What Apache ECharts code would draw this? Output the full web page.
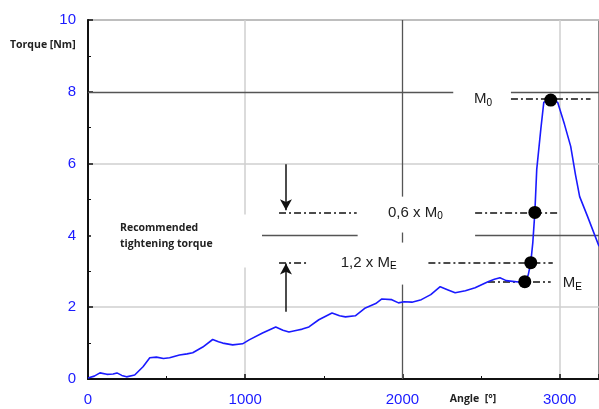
<!DOCTYPE html>
<html>
<head>
<meta charset="utf-8">
<script src="https://cdn.jsdelivr.net/npm/echarts@6/dist/echarts.min.js"></script>
<style>
  html, body { margin: 0; padding: 0; background: #fff; }
  #main { width: 599px; height: 409px; }
</style>
</head>
<body>
<div id="main"></div>
<script>
// torque curve
var angle  = [0, 40, 76, 120, 160, 184, 215, 245, 297, 350, 393, 435, 480, 519, 582, 630, 666, 730, 793, 830, 857, 920, 983, 1025, 1110, 1194, 1240, 1278, 1330, 1363, 1405, 1468, 1552, 1600, 1637, 1700, 1764, 1830, 1869, 1932, 1975, 2010, 2060, 2120, 2180, 2240, 2290, 2335, 2400, 2462, 2544, 2585, 2620, 2660, 2700, 2740, 2778, 2800, 2816, 2829, 2842, 2854, 2880, 2899, 2943, 2987, 3030, 3070, 3100, 3127, 3177, 3250];
var torque = [0.03, 0.08, 0.17, 0.13, 0.14, 0.17, 0.10, 0.06, 0.11, 0.34, 0.59, 0.61, 0.57, 0.59, 0.67, 0.70, 0.73, 0.89, 1.10, 1.04, 1.00, 0.95, 0.98, 1.09, 1.28, 1.45, 1.36, 1.31, 1.36, 1.39, 1.45, 1.65, 1.84, 1.76, 1.73, 1.76, 1.98, 2.10, 2.23, 2.21, 2.12, 2.15, 2.14, 2.21, 2.35, 2.57, 2.48, 2.40, 2.46, 2.54, 2.71, 2.78, 2.82, 2.74, 2.72, 2.70, 2.71, 2.90, 3.24, 3.80, 4.64, 5.84, 6.96, 7.71, 7.77, 7.71, 7.10, 6.48, 5.70, 5.08, 4.53, 3.70];

// marked points: M_E, 1,2 x M_E, 0,6 x M_0, M_0
var markAngle  = [2778, 2816, 2842, 2943];
var markTorque = [2.71, 3.24, 4.64, 7.77];

var yTicks = [0, 2, 4, 6, 8, 10];
var xTicks = [0, 1000, 2000, 3000];

var M0 = 7.80, M0_06 = 4.64, ME_12 = 3.24, ME = 2.71;

var curve = angle.map(function (a, i) { return [a, torque[i]]; });
var dots = markAngle.map(function (a, i) { return [a, markTorque[i]]; });

function seg(x1, y1, x2, y2) { return [{ coord: [x1, y1] }, { coord: [x2, y2] }]; }

var myChart = echarts.init(document.getElementById('main'));
var blue = '#1a1aff';
var option = {
  animation: false,
  backgroundColor: '#fff',
  grid: { left: 88, right: -3, top: 20, bottom: 30, show: true, borderColor: '#666', borderWidth: 1.5 },
  xAxis: {
    type: 'value', min: 0, max: 3250, interval: 1000,
    axisLine: { lineStyle: { color: '#111', width: 2 } },
    axisTick: { inside: true, length: 5, lineStyle: { color: '#111', width: 1.5 } },
    minorTick: { show: true, splitNumber: 2, length: 3, lineStyle: { color: '#111' } },
    axisLabel: { color: blue, fontSize: 15, fontFamily: 'Liberation Sans', margin: 13, showMaxLabel: false,
      formatter: function (v) { return String(v); } },
    splitLine: { show: true, lineStyle: { color: ['#cfcfcf', '#cfcfcf', 'rgba(0,0,0,0)', '#cfcfcf', 'rgba(0,0,0,0)'], width: 1.5 } }
  },
  yAxis: {
    type: 'value', min: 0, max: 10, interval: 2,
    axisLine: { show: true, lineStyle: { color: '#111', width: 2 } },
    axisTick: { show: true, inside: true, length: 5, lineStyle: { color: '#111', width: 1.5 } },
    minorTick: { show: true, splitNumber: 2, length: 3, lineStyle: { color: '#111' } },
    axisLabel: { color: blue, fontSize: 15, fontFamily: 'Liberation Sans', margin: 12 },
    splitLine: { show: true, lineStyle: { color: ['#cfcfcf', '#cfcfcf', 'rgba(0,0,0,0)', '#cfcfcf', 'rgba(0,0,0,0)', '#cfcfcf'], width: 1.5 } }
  },
  series: [
    { // dark reference lines, with the gaps of the original
      type: 'line', data: [], silent: true, z: 1,
      markLine: {
        silent: true, symbol: 'none', label: { show: false },
        lineStyle: { color: '#555', width: 1.3, type: 'solid' },
        data: [
          seg(0, 8, 2323, 8), seg(2690, 8, 3250, 8),
          seg(1101, 4, 1715, 4), seg(2462, 4, 3250, 4),
          seg(2000, 10, 2000, 5.08), seg(2000, 4.08, 2000, 3.80), seg(2000, 2.63, 2000, 0)
        ]
      }
    },
    { // dash-dot level lines
      type: 'line', data: [], silent: true, z: 2,
      markLine: {
        silent: true, symbol: 'none', label: { show: false },
        lineStyle: { color: '#111', width: 1.5, type: [7, 3, 2, 3] },
        data: [
          seg(2690, M0, 3196, M0),
          seg(1215, M0_06, 1709, M0_06), seg(2462, M0_06, 2987, M0_06),
          seg(1215, ME_12, 1392, ME_12), seg(2165, ME_12, 2956, ME_12),
          seg(2544, ME, 2943, ME)
        ]
      }
    },
    { // arrows
      type: 'line', data: [], silent: true, z: 2,
      markLine: {
        silent: true, symbol: ['none', 'arrow'], symbolSize: [9, 11], label: { show: false },
        lineStyle: { color: '#111', width: 1.5, type: 'solid' },
        data: [seg(1259, 5.98, 1259, 4.70), seg(1259, 1.87, 1259, 3.22)]
      }
    },
    {
      type: 'line', data: curve, showSymbol: false, smooth: false, z: 5,
      lineStyle: { color: blue, width: 1.6 }
    },
    {
      type: 'scatter', data: dots, symbolSize: 13, z: 6,
      itemStyle: { color: '#000', opacity: 1 }
    }
  ]
};
myChart.setOption(option);

function px(x, y) { return myChart.convertToPixel({ gridIndex: 0 }, [x, y]); }
var txt = '#222';
var rich = {
  m: { fontSize: 15, fontFamily: 'Liberation Sans', fill: txt, color: txt },
  s: { fontSize: 10, fontFamily: 'Liberation Sans', color: '#666', padding: [8, 0, 0, 0] }
};
var pRec = px(0, 4), pM0 = px(2513, M0), p06 = px(2082, M0_06), p12 = px(1785, ME_12), pME = px(3019, ME - 0.03);
var pTq = px(0, 9.55), pAng = px(2530, 0);

myChart.setOption({
  graphic: [
    { type: 'rect', z: 50, shape: { x: pRec[0] + 3, y: pRec[1] - 21, width: 171, height: 53 }, style: { fill: '#fff' } },
    { type: 'text', z: 51, x: pRec[0] + 32, y: pRec[1] - 15,
      style: { text: 'Recommended\ntightening torque', font: 'bold 10.5px "Open Sans"', fill: '#222', lineHeight: 16 } },
    { type: 'text', z: 51, x: pTq[0] - 78, y: pTq[1] + 3,
      style: { text: 'Torque [Nm]', font: 'bold 10.5px "Open Sans"', fill: '#222' } },
    { type: 'text', z: 51, x: pAng[0] - 36, y: pAng[1] + 15,
      style: { text: 'Angle  [°]', font: 'bold 10.5px "Open Sans"', fill: '#222' } },
    { type: 'text', z: 51, x: pM0[0], y: pM0[1], style: { text: '{m|M}{s|0}', rich: rich, align: 'center', verticalAlign: 'middle' } },
    { type: 'text', z: 51, x: p06[0], y: p06[1], style: { text: '{m|0,6 x M}{s|0}', rich: rich, align: 'center', verticalAlign: 'middle' } },
    { type: 'text', z: 51, x: p12[0], y: p12[1], style: { text: '{m|1,2 x M}{s|E}', rich: rich, align: 'center', verticalAlign: 'middle' } },
    { type: 'text', z: 51, x: pME[0], y: pME[1], style: { text: '{m|M}{s|E}', rich: rich, align: 'left', verticalAlign: 'middle' } }
  ]
});
</script>
</body>
</html>
